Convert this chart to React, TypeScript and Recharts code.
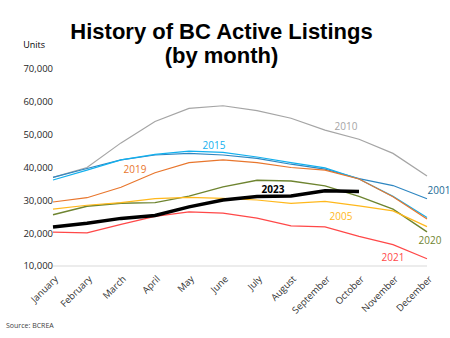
import { LineChart, Line, XAxis, YAxis, LabelList } from "recharts";

const months = [
  "January", "February", "March", "April", "May", "June",
  "July", "August", "September", "October", "November", "December",
];
const yTicks = [10000, 20000, 30000, 40000, 50000, 60000, 70000];

const y2010 = [37000, 40000, 47500, 54000, 58000, 58800, 57300, 55000, 51400, 48600, 44300, 37400];
const y2015 = [36200, 39200, 42300, 44000, 45000, 44600, 43200, 41500, 39900, 36500, 31200, 24800];
const y2001 = [37000, 39700, 42300, 43800, 44300, 43800, 42800, 41000, 39500, 36600, 34500, 30500];
const y2019 = [29500, 30800, 34000, 38400, 41500, 42300, 41500, 40000, 39200, 36500, 31100, 24300];
const y2020 = [25600, 28200, 29100, 29300, 31300, 34100, 36100, 35900, 34400, 31200, 27300, 20400];
const y2005 = [27300, 28500, 29300, 30500, 30900, 30600, 30100, 29100, 29700, 28300, 26800, 22000];
const y2023 = [21900, 23000, 24500, 25400, 28000, 30100, 31200, 31300, 32900, 32700];
const y2021 = [20300, 20100, 22700, 25100, 26500, 26100, 24600, 22200, 21900, 19000, 16500, 12200];

const data = months.map((m, i) => ({
  month: m,
  y2010: y2010[i],
  y2015: y2015[i],
  y2001: y2001[i],
  y2019: y2019[i],
  y2020: y2020[i],
  y2005: y2005[i],
  y2023: y2023[i],
  y2021: y2021[i],
}));

// series: key, name, colour, width, which point carries the label, label offset
const series = [
  { key: "y2010", name: "2010", color: "#A5A5A5", width: 1.2, at: 9, dx: -13, dy: -13 },
  { key: "y2001", name: "2001", color: "#2E86C1", width: 1.2, at: 11, dx: 12, dy: -9, labelColor: "#236A94" },
  { key: "y2015", name: "2015", color: "#12B0EE", width: 1.2, at: 5, dx: -9, dy: -7 },
  { key: "y2019", name: "2019", color: "#E8762D", width: 1.2, at: 2, dx: 14, dy: -18 },
  { key: "y2020", name: "2020", color: "#6E8430", width: 1.4, at: 11, dx: 3, dy: 8 },
  { key: "y2005", name: "2005", color: "#FFB81C", width: 1.2, at: 9, dx: -18, dy: 10 },
  { key: "y2021", name: "2021", color: "#FF4848", width: 1.2, at: 10, dx: 0, dy: 12 },
  { key: "y2023", name: "2023", color: "#000000", width: 3.5, at: 6, dx: 16, dy: -7, bold: true },
];

const FONT = "'Open Sans', sans-serif";

function makeLabel(s: any) {
  return (props: any) => {
    const { x, y, index } = props;
    if (index !== s.at || x == null || y == null) return null;
    return (
      <text
        x={x + s.dx}
        y={y + s.dy}
        textAnchor="middle"
        dominantBaseline="central"
        fontSize={10}
        fontFamily={FONT}
        fontWeight={s.bold ? 700 : 400}
        fill={s.labelColor || s.color}
      >
        {s.name}
      </text>
    );
  };
}

function MonthTick(props: any) {
  const { x, y, payload } = props;
  return (
    <g transform={`translate(${x},${y})`}>
      <text
        x={0}
        y={0}
        dy={8}
        textAnchor="end"
        transform="rotate(-45)"
        fontSize={9.5}
        fontFamily={FONT}
        fill="#333333"
      >
        {payload.value}
      </text>
    </g>
  );
}

export default function App() {
  return (
    <div style={{ position: "absolute", left: 0, top: 0, width: 450, height: 338, background: "#fff", fontFamily: FONT }}>
      <div
        style={{
          position: "absolute",
          left: 0,
          top: 20,
          width: 443,
          textAlign: "center",
          fontFamily: "'Liberation Sans', Arial, sans-serif",
          fontWeight: 700,
          fontSize: 22,
          lineHeight: "24px",
          color: "#000",
        }}
      >
        History of BC Active Listings
        <br />
        (by month)
      </div>
      <div style={{ position: "absolute", left: 0, width: 45, textAlign: "right", top: 38, fontSize: 9, color: "#000" }}>Units</div>
      <LineChart
        width={450}
        height={338}
        data={data}
        margin={{ top: 69, right: 23, bottom: 12, left: 8 }}
      >
        <XAxis
          dataKey="month"
          height={60}
          tick={<MonthTick />}
          tickLine={false}
          stroke="#D9D9D9"
          interval={0}
        />
        <YAxis
          width={45}
          domain={[10000, 70000]}
          ticks={yTicks}
          tickFormatter={(v: number) => v.toLocaleString("en-US")}
          axisLine={false}
          tickLine={false}
          tickSize={0}
          tickMargin={0}
          tick={{ fontSize: 9.5, fill: "#262626", fontFamily: FONT }}
        />
        {series.map((s) => (
          <Line
            key={s.key}
            dataKey={s.key}
            stroke={s.color}
            strokeWidth={s.width}
            dot={false}
            type="linear"
            isAnimationActive={false}
          >
            <LabelList dataKey={s.key} content={makeLabel(s)} />
          </Line>
        ))}
      </LineChart>
      <div style={{ position: "absolute", left: 6, top: 321, fontSize: 7, color: "#404040" }}>Source: BCREA</div>
    </div>
  );
}
